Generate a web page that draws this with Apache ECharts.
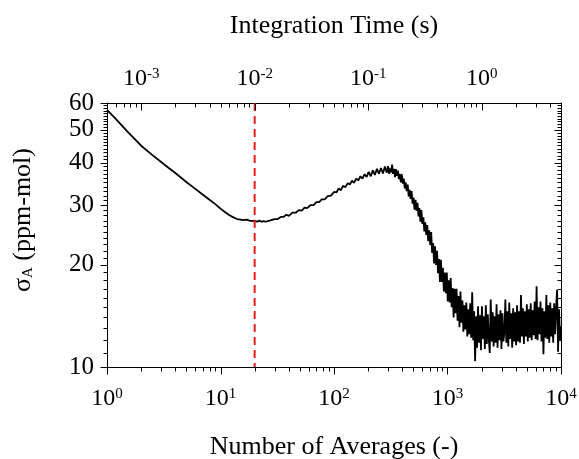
<!DOCTYPE html>
<html>
<head>
<meta charset="utf-8">
<script src="https://cdn.jsdelivr.net/npm/echarts@6/dist/echarts.min.js"></script>
<style>
html,body{margin:0;padding:0;background:#fff;}
#chart{width:579px;height:459px;}
</style>
</head>
<body>
<div id="chart"></div>
<script>
// ---- texts ----
const xTitle = 'Number of Averages (-)';
const topTitle = 'Integration Time (s)';
const yTitleSymbol = 'σ';
const yTitleSub = 'A';
const yTitleUnit = ' (ppm-mol)';

// ---- axes ----
const nRange = [1, 10000];
const sigmaRange = [10, 60];
const secondsPerAverage = 0.0005;
const xMajorTicks = [1, 10, 100, 1000, 10000];
const xMinorTicks = [2,3,4,5,6,7,8,9,20,30,40,50,60,70,80,90,200,300,400,500,600,700,800,900,2000,3000,4000,5000,6000,7000,8000,9000];
const timeMajorTicks = [0.001, 0.01, 0.1, 1];
const timeMinorTicks = [0.0006,0.0007,0.0008,0.0009,0.002,0.003,0.004,0.005,0.006,0.007,0.008,0.009,0.02,0.03,0.04,0.05,0.06,0.07,0.08,0.09,0.2,0.3,0.4,0.5,0.6,0.7,0.8,0.9,2,3,4];
const yMajorTicks = [10, 20, 30, 40, 50, 60];
const yMinorTicks = [11,12,13,14,15,16,17,18,19,21,22,23,24,25,26,27,28,29,31,32,33,34,35,36,37,38,39,41,42,43,44,45,46,47,48,49,51,52,53,54,55,56,57,58,59];

// ---- data: [number of averages, sigma_A (ppm-mol)] ----
const initialDecay = [[1,57.3],[1.2,53.8],[1.5,49.6],[2,44.9],[2.5,42.2],[3,40.2],[3.5,38.6],[4,37.3],[5,35.1],[6,33.5],[7,32.2],[8,31.1],[9,30.2],[10,29.3],[11,28.6],[12,28.0],[13,27.6],[14,27.3],[15,27.2],[16,27.1],[17,27.2],[18,27.0],[19,26.9],[20,27.0],[21,26.8],[22,27.0],[23,26.8],[24,26.9],[25,26.8],[27,27.0]];
const slowRise = [[30,27.3],[32,27.3],[34,27.7],[36,27.7],[38,28.1],[40,27.9],[43,28.5],[46,28.5],[49,29.0],[52,28.9],[55,29.5],[58,29.4],[62,30.0],[66,30.0],[70,30.6],[74,30.6],[78,31.2],[83,31.2],[88,31.9],[94,32.0]];
const riseToPeak = [[100,32.8],[105,32.7],[110,33.6],[115,33.2],[120,34.2],[126,33.9],[132,34.8],[138,34.5],[144,35.4],[150,34.9],[157,35.9],[164,35.5],[171,36.5],[178,35.9],[186,37.0],[194,36.3],[202,37.6],[211,36.5],[220,38.0],[229,36.8],[239,38.4],[249,37.1],[259,38.6],[270,37.2],[281,39.0],[292,37.4]];
const peakAndDrop = [[300,39.1],[306,37.1],[312,38.5],[318,37.5],[325,39.5],[331,37.1],[338,38.4],[345,36.3],[351,38.3],[358,36.6],
[366,37.9],[373,35.8],[380,37.1],[388,35.0],[396,37.0],[404,34.7],[412,35.9],[420,33.6],[428,35.0],[437,33.0],
[446,34.5],[455,31.8],[464,33.3],[473,31.3],[483,33.0],[492,30.3],[502,31.6],[512,29.1],[523,31.1],[533,28.9],
[544,30.5],[555,27.8],[566,29.4],[577,26.8],[589,29.0],[600,26.4],[613,27.6],[625,25.1],[637,26.7],[650,24.5],
[663,26.2],[676,23.5],[690,25.3],[704,22.9],[718,25.0],[732,21.7],[747,23.2],[762,20.2],[777,22.7],[793,20.0],
[809,22.0],[825,18.9],[841,20.8],[858,17.8],[875,20.7],[893,17.8],[911,19.6],[929,16.7],[947,19.0],[966,16.5],
[986,19.0],[1005,15.6],[1026,18.0],[1046,15.5],[1067,18.3],[1088,15.0],[1110,17.1],[1132,14.0],[1155,17.0],[1178,14.4],
[1202,17.0],[1226,13.7],[1250,16.2],[1275,13.1],[1301,16.7],[1327,13.5],[1353,15.7],[1380,12.7],[1408,15.2],[1436,12.9],
[1465,15.5],[1494,12.3],[1524,14.8],[1555,12.5],[1586,15.4],[1617,12.2]];
const noiseFloor = [[1650,16.6],[1683,12.0],[1716,14.6],[1751,10.4],[1786,14.1],[1821,11.4],[1858,15.1],[1895,11.8],[1933,14.2],[1971,11.2],
[2011,15.1],[2051,12.1],[2092,14.1],[2134,11.3],[2177,15.2],[2220,11.7],[2265,14.3],[2310,12.1],[2356,11.0],[2403,15.8],
[2451,11.9],[2500,14.5],[2550,11.5],[2601,14.1],[2653,11.8],[2706,15.3],[2760,11.4],[2815,14.3],[2872,12.0],[2929,14.7],
[2988,11.3],[3047,14.4],[3108,11.9],[3171,12.6],[3234,15.8],[3299,11.8],[3365,14.6],[3432,11.5],[3501,15.5],[3571,12.1],
[3642,14.4],[3715,11.4],[3789,14.9],[3865,11.9],[3942,14.5],[4021,11.6],[4102,15.2],[4184,11.9],[4267,14.6],[4353,11.8],
[4440,16.3],[4529,12.3],[4619,14.9],[4712,11.7],[4806,14.6],[4902,12.3],[5000,15.3],[5100,11.9],[5202,14.8],[5306,12.2],
[5412,15.4],[5520,12.0],[5631,14.7],[5743,12.4],[5858,15.6],[5975,12.1],[6095,17.3],[6217,12.0],[6341,15.0],[6468,12.5],
[6597,15.6],[6729,11.9],[6864,14.9],[7001,10.9],[7141,14.6],[7284,12.2],[7430,16.3],[7578,12.1],[7730,15.2],[7885,11.8],
[8042,15.5],[8203,12.3],[8367,14.9],[8534,11.8],[8705,15.4],[8879,12.5],[9057,15.0],[9238,16.9],[9423,11.1],[9611,14.8],
[9803,12.0],[10000,13.2]];
const markerN = 20;

// ---- build ----
const curve = [].concat(initialDecay, slowRise, riseToPeak, peakAndDrop, noiseFloor);
const markerLine = [[markerN, sigmaRange[1]], [markerN, sigmaRange[0]]];

const F = '"Liberation Serif", "Times New Roman", "DejaVu Serif", serif';
const black = '#000';
function powLabel(v) {
  const e = Math.round(Math.log10(v));
  return '{b|10}{s|' + e + '}';
}
const powRich = {
  b: { fontFamily: F, fontSize: 24, color: black },
  s: { fontFamily: F, fontSize: 15, color: black, verticalAlign: 'top' }
};
const lineSty = { color: black, width: 1 };

function majorX(pos, min, max, ticks, name, margin, gap) {
  return {
    type: 'log', position: pos, min: min, max: max,
    name: name, nameLocation: 'middle', nameGap: gap,
    nameTextStyle: { fontFamily: F, fontSize: 26, color: black },
    axisLine: { show: true, onZero: false, lineStyle: lineSty },
    axisTick: { show: false },
    axisLabel: { show: true, customValues: ticks, margin: margin, formatter: powLabel, rich: powRich },
    splitLine: { show: false }, minorTick: { show: false }
  };
}
function yAx(pos, labels) {
  return {
    type: 'log', position: pos, min: sigmaRange[0], max: sigmaRange[1],
    axisLine: { show: true, onZero: false, lineStyle: lineSty },
    axisTick: { show: false },
    axisLabel: labels ? { show: true, customValues: yMajorTicks, margin: 13, fontFamily: F, fontSize: 25, color: black } : { show: false },
    splitLine: { show: false }, minorTick: { show: false }
  };
}
const yLeft = yAx('left', true);
yLeft.name = '{a|' + yTitleSymbol + '}{sub|' + yTitleSub + '}{a|' + yTitleUnit + '}';
yLeft.nameLocation = 'middle';
yLeft.nameGap = 71;
yLeft.nameTextStyle = {
  fontFamily: F, fontSize: 26, color: black, padding: [0, 0, 0, 30],
  rich: {
    a: { fontFamily: F, fontSize: 26, color: black },
    sub: { fontFamily: F, fontSize: 15, color: black, verticalAlign: 'bottom' }
  }
};

// tick marks drawn through the cartesian scales
function tickSeries(points, dx, dy) {
  return {
    type: 'custom', coordinateSystem: 'cartesian2d', xAxisIndex: 0, yAxisIndex: 0,
    data: points, silent: true, clip: false, z: 5,
    renderItem: function (params, api) {
      const p = api.coord([api.value(0), api.value(1)]);
      const x = Math.round(p[0]) + 0.5, y = Math.round(p[1]) + 0.5;
      return { type: 'line', shape: { x1: x, y1: y, x2: x + dx, y2: y + dy }, style: { stroke: black, lineWidth: 1 } };
    }
  };
}
const toN = t => t / secondsPerAverage;

const tMin = nRange[0] * secondsPerAverage, tMax = nRange[1] * secondsPerAverage;

const option = {
  animation: false,
  backgroundColor: '#fff',
  grid: { left: 107, right: 18, top: 103, bottom: 92, containLabel: false, outerBoundsMode: 'none' },
  xAxis: [
    majorX('bottom', nRange[0], nRange[1], xMajorTicks, xTitle, 20, 67),
    majorX('top', tMin, tMax, timeMajorTicks, topTitle, 12, 64)
  ],
  yAxis: [
    yLeft,
    yAx('right', false)
  ],
  series: [
    {
      type: 'line', data: curve, xAxisIndex: 0, yAxisIndex: 0,
      symbol: 'none', showSymbol: false, smooth: false,
      lineStyle: { color: black, width: 1.8 }, clip: true, z: 2
    },
    {
      type: 'line', data: markerLine, xAxisIndex: 0, yAxisIndex: 0,
      symbol: 'none', showSymbol: false,
      lineStyle: { color: '#ee1c1c', width: 2, type: [8, 5] }, z: 3
    },
    tickSeries(xMajorTicks.map(v => [v, sigmaRange[0]]), 0, 7),
    tickSeries(xMinorTicks.map(v => [v, sigmaRange[0]]), 0, 4),
    tickSeries(timeMajorTicks.map(t => [toN(t), sigmaRange[1]]), 0, 7),
    tickSeries(timeMinorTicks.map(t => [toN(t), sigmaRange[1]]), 0, 4),
    tickSeries(yMajorTicks.map(v => [nRange[0], v]), -7, 0),
    tickSeries(yMinorTicks.map(v => [nRange[0], v]), -4, 0),
    tickSeries(yMajorTicks.map(v => [nRange[1], v]), -7, 0),
    tickSeries(yMinorTicks.map(v => [nRange[1], v]), -4, 0)
  ]
};

const chart = echarts.init(document.getElementById('chart'), null, { renderer: 'canvas' });
chart.setOption(option);
</script>
</body>
</html>
